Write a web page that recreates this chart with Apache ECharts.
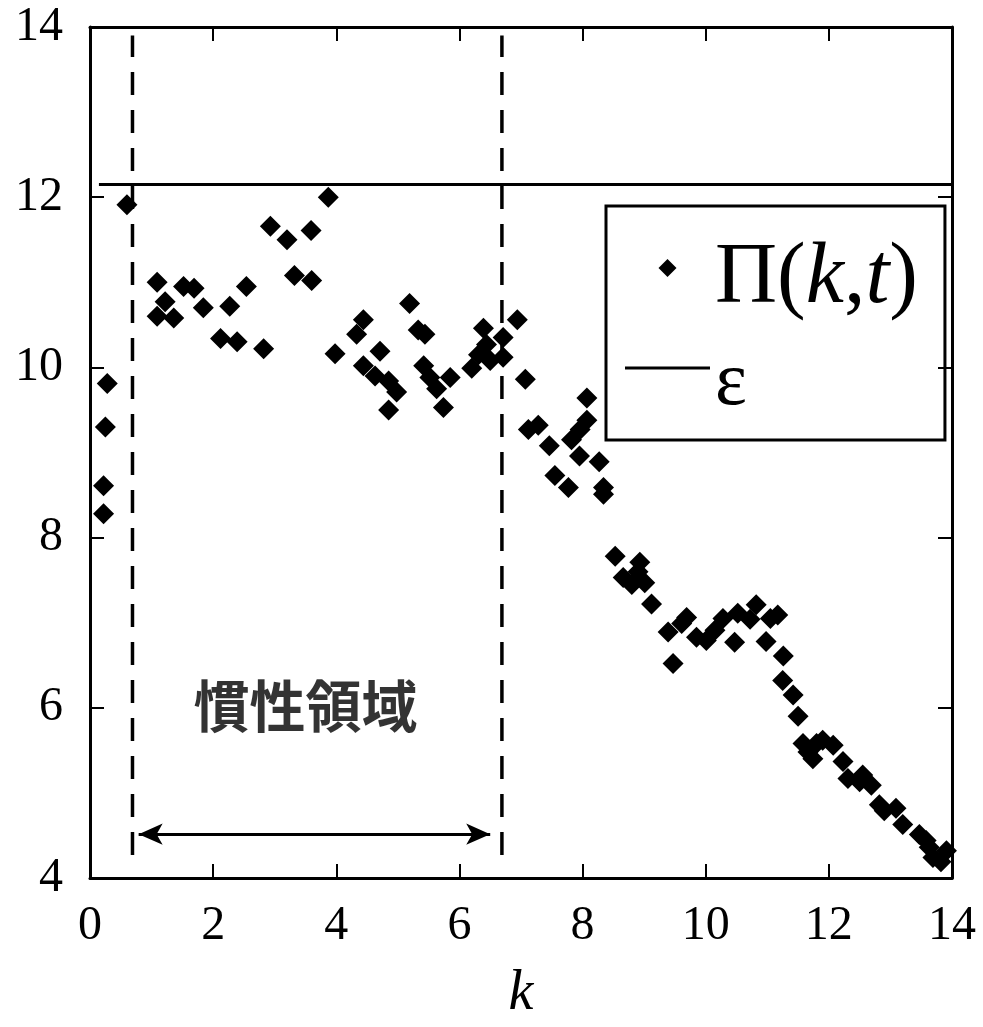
<!DOCTYPE html>
<html>
<head>
<meta charset="utf-8">
<script src="https://cdn.jsdelivr.net/npm/echarts@6/dist/echarts.min.js"></script>
<style>
html,body{margin:0;padding:0;background:#fff;overflow:hidden;}
#chart{width:983px;height:1027px;}
</style>
</head>
<body>
<div id="chart"></div>
<script>
// ---- data ----
const kValues = [0.22,0.22,0.25,0.28,0.60,
  1.09,1.09,1.22,1.36,1.52,1.69,1.84,2.12,2.27,2.39,2.54,2.82,2.93,3.20,3.32,3.59,3.60,3.87,3.98,
  4.33,4.44,4.44,4.63,4.71,4.85,4.85,4.98,5.19,5.33,5.44,5.42,5.52,5.63,5.74,5.85,6.20,6.31,6.39,6.44,6.50,6.71,6.71,6.94,7.07,
  7.12,7.28,7.46,7.55,7.77,7.82,7.96,8.07,7.95,8.07,8.27,8.34,8.34,
  8.53,8.66,8.80,8.90,8.93,9.01,9.12,9.39,9.47,9.61,9.69,9.85,10.01,10.15,10.28,10.47,10.52,10.72,10.82,10.98,11.05,11.17,11.26,11.25,11.42,11.50,11.58,11.66,11.74,11.80,11.90,12.07,12.23,12.31,12.50,12.55,12.69,12.82,12.90,13.09,13.20,13.47,13.58,13.63,13.69,13.82,13.91,14.01];
const piValues = [8.28,8.61,9.30,9.81,11.91,
  11.00,10.60,10.77,10.58,10.95,10.93,10.70,10.34,10.72,10.30,10.95,10.22,11.66,11.50,11.08,11.61,11.02,12.00,10.16,
  10.39,10.56,10.02,9.90,10.19,9.84,9.50,9.71,10.75,10.44,10.39,10.02,9.88,9.75,9.53,9.88,9.99,10.15,10.46,10.27,10.08,10.35,10.12,10.56,9.86,
  9.27,9.32,9.08,8.73,8.59,9.15,9.27,9.38,8.96,9.64,8.89,8.59,8.51,
  7.78,7.53,7.45,7.60,7.71,7.47,7.22,6.89,6.52,6.99,7.06,6.83,6.79,6.91,7.05,6.77,7.11,7.04,7.21,6.78,7.05,7.09,6.61,6.32,6.15,5.90,5.58,5.48,5.40,5.58,5.62,5.56,5.37,5.17,5.13,5.21,5.09,4.86,4.79,4.82,4.63,4.51,4.44,4.36,4.24,4.19,4.32,4.23];
const epsilonValue = 12.15;
const epsilonKRange = [0.145, 14];
const inertialBounds = [0.69, 6.69];
const dashedVRange = [4.27, 13.9];
const arrowKRange = [0.79, 6.5];
const arrowLevel = 4.515;
const regionLabel = '慣性領域';
const regionLabelPos = [3.5, 6.02];
const xTickRange = {min: 0, max: 14, interval: 2};
const yTickRange = {min: 4, max: 14, interval: 2};
const seriesNames = {pi: 'Π(k,t)', eps: 'ε'};
const axisName = 'k';

// ---- chart ----
const serif = 'Liberation Serif';
const chart = echarts.init(document.getElementById('chart'), null, {renderer: 'canvas', width: 983, height: 1027});
const scatterData = kValues.map((k, i) => [k, piValues[i]]);
const black = '#000';

function axisCommon(extra) {
  return Object.assign({
    type: 'value',
    axisLine: {show: true, onZero: false, lineStyle: {color: black, width: 3}},
    axisTick: {show: true, inside: true, length: 14, lineStyle: {color: black, width: 2}},
    splitLine: {show: false}
  }, extra);
}

// legend icons: small diamond (raised a little) in a wide box, and a plain bar
const diamondIcon = 'path://M0,0 M85,40 M42.5,0 L51.5,9 L42.5,18 L33.5,9 Z';
const barIcon = 'path://M0,0 M85,40 M0,18.5 L85,18.5 L85,21.5 L0,21.5 Z';

const option = {
  backgroundColor: '#fff',
  animation: false,
  grid: {left: 90, top: 27, width: 862, height: 864, containLabel: false},
  xAxis: [
    axisCommon(Object.assign({}, xTickRange, {
      position: 'bottom',
      name: axisName, nameLocation: 'middle', nameGap: 88,
      nameTextStyle: {fontFamily: serif, fontStyle: 'italic', fontSize: 56, color: black},
      axisLabel: {show: true, margin: 24, fontFamily: serif, fontSize: 48, color: black}
    })),
    axisCommon(Object.assign({}, xTickRange, {position: 'top', axisLabel: {show: false}}))
  ],
  yAxis: [
    axisCommon(Object.assign({}, yTickRange, {
      position: 'left',
      axisLabel: {show: true, margin: 27, fontFamily: serif, fontSize: 48, color: black}
    })),
    axisCommon(Object.assign({}, yTickRange, {position: 'right', axisLabel: {show: false}}))
  ],
  legend: {
    data: [
      {name: seriesNames.pi, icon: diamondIcon, itemStyle: {color: black, opacity: 1}},
      {name: seriesNames.eps, icon: barIcon, itemStyle: {color: black, opacity: 1}}
    ],
    orient: 'vertical',
    left: 606, top: 206,
    itemWidth: 85, itemHeight: 40, itemGap: 24,
    padding: [30, 27, 18, 19],
    borderColor: black, borderWidth: 3,
    inactiveColor: black,
    selectedMode: false,
    textStyle: {
      fontFamily: serif, fontSize: 86, color: black,
      rich: {
        n: {fontFamily: serif, fontSize: 86, color: black},
        i: {fontFamily: serif, fontSize: 86, fontStyle: 'italic', color: black},
        e: {fontFamily: serif, fontSize: 76, color: black, padding: [32, 0, 0, 0]}
      }
    },
    formatter: function (name) {
      if (name === seriesNames.eps) return '{e|ε}';
      return '{n|Π(}{i|k}{n|,}{i|t}{n|)}';
    }
  },
  series: [
    {
      name: seriesNames.pi, type: 'scatter', symbol: 'diamond', symbolSize: 21,
      itemStyle: {color: black, opacity: 1}, data: scatterData, z: 5
    },
    {
      name: seriesNames.eps, type: 'line', symbol: 'none',
      lineStyle: {color: black, width: 3}, itemStyle: {color: black},
      data: [[epsilonKRange[0], epsilonValue], [epsilonKRange[1], epsilonValue]]
    },
    {
      name: 'bound-left', type: 'line', symbol: 'none',
      lineStyle: {color: black, width: 3.5, type: [23, 15]},
      data: [[inertialBounds[0], dashedVRange[0]], [inertialBounds[0], dashedVRange[1]]]
    },
    {
      name: 'bound-right', type: 'line', symbol: 'none',
      lineStyle: {color: black, width: 3.5, type: [23, 15]},
      data: [[inertialBounds[1], dashedVRange[0]], [inertialBounds[1], dashedVRange[1]]]
    },
    {
      name: 'arrow', type: 'line', symbol: 'none', data: [],
      markLine: {
        silent: true, animation: false,
        symbol: ['arrow', 'arrow'], symbolSize: [16, 24],
        label: {show: false},
        lineStyle: {color: black, width: 3, type: 'solid'},
        data: [[{coord: [arrowKRange[0], arrowLevel]}, {coord: [arrowKRange[1], arrowLevel]}]]
      }
    },
    {
      name: 'region-label', type: 'scatter', symbolSize: 0,
      data: [regionLabelPos],
      label: {
        show: true, position: 'inside', formatter: regionLabel,
        fontFamily: 'Noto Sans CJK JP', fontSize: 56, fontWeight: 'bold', color: black
      }
    }
  ]
};
chart.setOption(option);
</script>
</body>
</html>
